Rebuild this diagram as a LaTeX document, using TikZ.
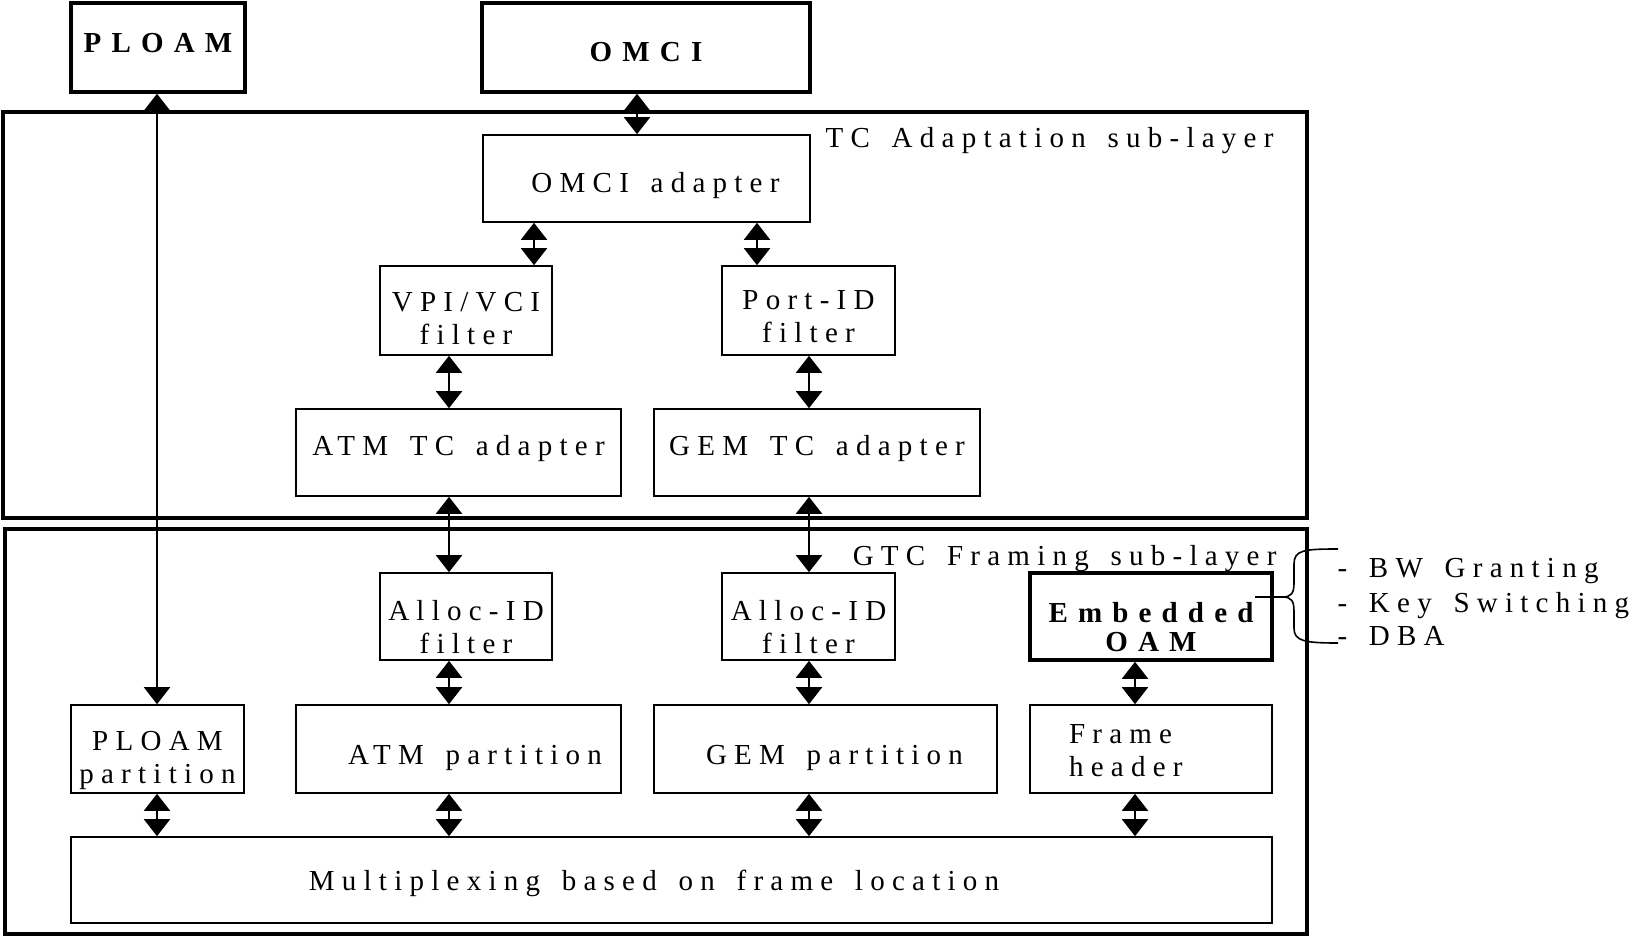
\documentclass[tikz,border=0pt]{standalone}
\usepackage{fontspec}
\setmainfont{Liberation Serif}[LetterSpace=25,WordSpace=1.5,BoldFeatures={LetterSpace=35}]
\usetikzlibrary{arrows.meta}

\begin{document}
\begin{tikzpicture}[x=1pt,y=-1pt,
                font=\fontsize{29}{33}\selectfont,
                box/.style={draw,line width=1.6pt,inner sep=2pt,align=center},
                strongbox/.style={box,line width=3.5pt,font=\fontsize{29}{29}\selectfont\bfseries},
                textpos/.style={text height=#1,text depth=0pt},
                layer/.style={draw,line width=3.5pt},
                link/.style={line width=2pt,{Triangle[width=26pt,length=17pt]}-{Triangle[width=26pt,length=17pt]}}]
                \useasboundingbox (0,0) rectangle (1632,936);
                % sub-layers
                \draw[layer] (3,112) rectangle (1307,518);
                \draw[layer] (5,529) rectangle (1307,934);
                \node[anchor=base east] (tc_label) at (1277,148) {TC Adaptation sub-layer};
                \node[anchor=base east] (gtc_label) at (1280,565) {GTC Framing sub-layer};
                % blocks
                \node[strongbox,textpos=10pt,minimum width=174pt,minimum height=89pt] (ploam) at (158,47.5) {PLOAM};
                \node[strongbox,textpos=28pt,minimum width=328pt,minimum height=89pt] (omci) at (646,47.5) {OMCI};
                \node[box,textpos=28pt,minimum width=327pt,minimum height=87pt] (omci_ad) at (646.5,178.5) {\hspace*{18pt}OMCI adapter};
                \node[box,textpos=68pt,minimum width=172pt,minimum height=89pt] (vpi) at (466,310.5) {VPI/VCI\\filter};
                \node[box,textpos=64pt,minimum width=173pt,minimum height=89pt] (port) at (808.5,310.5) {Port-ID\\filter};
                \node[box,textpos=5pt,minimum width=325pt,minimum height=87pt] (atm_tc) at (458.5,452.5) {ATM TC adapter};
                \node[box,textpos=5pt,minimum width=326pt,minimum height=87pt] (gem_tc) at (817,452.5) {GEM TC adapter};
                \node[box,textpos=73pt,minimum width=172pt,minimum height=87pt] (alloc_a) at (466,616.5) {Alloc-ID\\filter};
                \node[box,textpos=73pt,minimum width=173pt,minimum height=87pt] (alloc_g) at (808.5,616.5) {Alloc-ID\\filter};
                \node[strongbox,textpos=69pt,minimum width=242pt,minimum height=87pt] (oam) at (1151,616.5) {Embedded\\OAM};
                \node[box,textpos=69pt,minimum width=173pt,minimum height=88pt] (ploam_part) at (157.5,749) {PLOAM\\partition};
                \node[box,textpos=31pt,minimum width=325pt,minimum height=88pt] (atm_part) at (458.5,749) {\hspace*{33pt}ATM partition};
                \node[box,textpos=31pt,minimum width=343pt,minimum height=88pt] (gem_part) at (825.5,749) {\hspace*{18pt}GEM partition};
                \node[box,text height=0pt,text depth=11pt,minimum width=242pt,minimum height=88pt,text width=164pt,align=left] (frame) at (1151,749) {Frame\\header};
                \node[box,textpos=21pt,minimum width=1201pt,minimum height=86pt] (mux) at (671.5,880) {\hspace*{-35pt}Multiplexing based on frame location};
                % columns of the connectors
                \coordinate (c_ploam) at (157,0);
                \coordinate (c_omci) at (637,0);
                \coordinate (c_vpi) at (534,0);
                \coordinate (c_port) at (757,0);
                \coordinate (c_atm) at (449,0);
                \coordinate (c_gem) at (809,0);
                \coordinate (c_oam) at (1135,0);
                \draw[link] (ploam.south -| c_ploam) -- (ploam_part.north -| c_ploam);
                \draw[link] (omci.south -| c_omci) -- (omci_ad.north -| c_omci);
                \draw[link] (omci_ad.south -| c_vpi) -- (vpi.north -| c_vpi);
                \draw[link] (omci_ad.south -| c_port) -- (port.north -| c_port);
                \draw[link] (vpi.south -| c_atm) -- (atm_tc.north -| c_atm);
                \draw[link] (port.south -| c_gem) -- (gem_tc.north -| c_gem);
                \draw[link] (atm_tc.south -| c_atm) -- (alloc_a.north -| c_atm);
                \draw[link] (gem_tc.south -| c_gem) -- (alloc_g.north -| c_gem);
                \draw[link] (alloc_a.south -| c_atm) -- (atm_part.north -| c_atm);
                \draw[link] (alloc_g.south -| c_gem) -- (gem_part.north -| c_gem);
                \draw[link] (oam.south -| c_oam) -- (frame.north -| c_oam);
                \draw[link] (ploam_part.south -| c_ploam) -- (mux.north -| c_ploam);
                \draw[link] (atm_part.south -| c_atm) -- (mux.north -| c_atm);
                \draw[link] (gem_part.south -| c_gem) -- (mux.north -| c_gem);
                \draw[link] (frame.south -| c_oam) -- (mux.north -| c_oam);
                % OAM functions
                \coordinate (brace_tip) at (1255,597);
                \draw[line width=1.6pt] (1338,549) .. controls (1304,549) and (1294,550) .. (1294,564)
                    -- (1294,582) .. controls (1294,593) and (1292,597) .. (1282,597) -- (brace_tip);
                \draw[line width=1.6pt] (brace_tip) -- (1282,597) .. controls (1292,597) and (1294,601) .. (1294,612)
                    -- (1294,628) .. controls (1294,641) and (1304,643) .. (1338,643);
                \node[anchor=base west] (bw) at (1334,577.5) {- BW Granting};
                \node[anchor=base west] (key) at (1334,612.5) {- Key Switching};
                \node[anchor=base west] (dba) at (1334,645.5) {- DBA};
            \end{tikzpicture}
\end{document}
